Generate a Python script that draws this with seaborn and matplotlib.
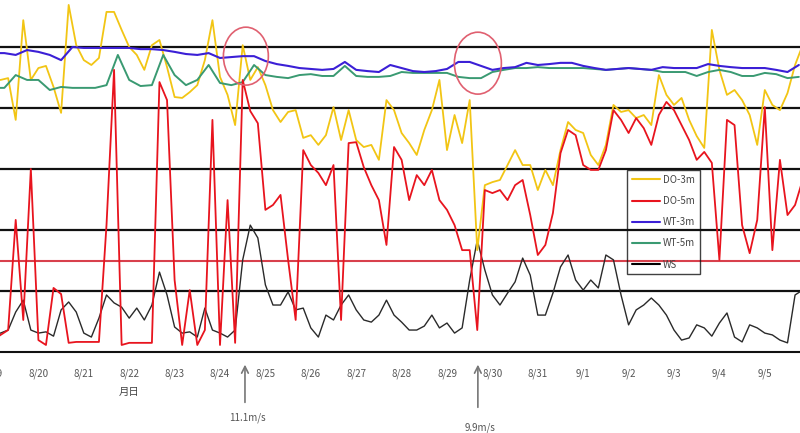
import numpy as np
import pandas as pd
import seaborn as sns
import matplotlib.pyplot as plt
import matplotlib.transforms as mtrans
from matplotlib.patches import Ellipse
from matplotlib.lines import Line2D

# ---------------- data ----------------
# time in days since 8/19 00:00 ; DO/WT/WS on the chart's common scale
date_labels = ['8/19', '8/20', '8/21', '8/22', '8/23', '8/24', '8/25', '8/26', '8/27',
               '8/28', '8/29', '8/30', '8/31', '9/1', '9/2', '9/3', '9/4', '9/5']
hours_4 = np.arange(0, 108 * 4, 4)      # 4-hourly readings
hours_6 = np.arange(0, 72 * 6, 6)       # 6-hourly readings

do_3m = [8.92, 8.92, 8.98, 7.61, 10.88, 8.92, 9.31, 9.38, 8.69, 7.84, 11.38, 10.06,
         9.57, 9.41, 9.64, 11.15, 11.15, 10.56, 10.00, 9.74, 9.25, 10.06, 10.23, 9.34,
         8.36, 8.33, 8.52, 8.75, 9.57, 10.88, 9.02, 8.43, 7.44, 10.06, 8.92, 9.34,
         8.75, 7.93, 7.54, 7.87, 7.93, 7.02, 7.11, 6.79, 7.11, 8.03, 6.95, 7.93,
         6.95, 6.72, 6.79, 6.30, 8.26, 7.93, 7.18, 6.85, 6.46, 7.28, 7.93, 8.92,
         6.62, 7.77, 6.85, 8.26, 3.34, 5.47, 5.57, 5.64, 6.13, 6.62, 6.13, 6.13,
         5.31, 5.97, 5.47, 6.62, 7.54, 7.28, 7.18, 6.46, 6.13, 6.79, 8.10, 7.87,
         7.93, 7.67, 7.77, 7.44, 9.08, 8.43, 8.10, 8.33, 7.61, 7.08, 6.69, 10.56,
         9.25, 8.43, 8.59, 8.26, 7.77, 6.79, 8.59, 8.10, 7.93, 8.49, 9.41, 10.06]

do_5m = [0.39, 0.56, 0.72, 4.33, 1.05, 6.00, 0.39, 0.23, 2.10, 1.90, 0.30, 0.33,
         0.33, 0.33, 0.33, 4.16, 9.25, 0.23, 0.30, 0.30, 0.30, 0.30, 8.85, 8.26,
         2.36, 0.23, 2.03, 0.23, 0.72, 7.61, 0.23, 4.98, 0.30, 8.92, 7.90, 7.50,
         4.66, 4.82, 5.15, 3.02, 1.05, 6.62, 6.13, 5.87, 5.47, 6.13, 1.05, 6.85,
         6.88, 6.06, 5.47, 4.98, 3.51, 6.72, 6.30, 4.98, 5.80, 5.47, 5.97, 4.98,
         4.66, 4.16, 3.34, 3.34, 0.72, 5.31, 5.21, 5.31, 4.98, 5.47, 5.64, 4.49,
         3.18, 3.51, 4.56, 6.52, 7.28, 7.11, 6.13, 5.97, 5.97, 6.62, 7.93, 7.61,
         7.18, 7.67, 7.34, 6.79, 7.77, 8.20, 7.93, 7.44, 6.95, 6.30, 6.56, 6.20,
         3.02, 7.61, 7.44, 4.16, 3.24, 4.33, 8.03, 3.34, 6.30, 4.49, 4.82, 5.64]

ws = [0.62, 0.62, 0.72, 1.31, 1.70, 0.72, 0.62, 0.66, 0.52, 1.38, 1.64, 1.31,
      0.62, 0.49, 1.11, 1.87, 1.61, 1.47, 1.11, 1.44, 1.05, 1.54, 2.62, 1.87,
      0.82, 0.62, 0.66, 0.49, 1.44, 0.72, 0.62, 0.49, 0.72, 3.02, 4.16, 3.74,
      2.20, 1.54, 1.54, 1.97, 1.38, 1.44, 0.79, 0.49, 1.21, 1.05, 1.54, 1.87,
      1.38, 1.05, 0.98, 1.21, 1.70, 1.21, 0.98, 0.72, 0.72, 0.85, 1.21, 0.79,
      0.95, 0.62, 0.79, 2.36, 3.67, 2.69, 1.87, 1.54, 1.93, 2.30, 3.08, 2.52,
      1.21, 1.21, 1.93, 2.79, 3.18, 2.36, 2.03, 2.36, 2.10, 3.18, 3.02, 1.87,
      0.89, 1.38, 1.54, 1.77, 1.54, 1.21, 0.72, 0.39, 0.46, 0.89, 0.79, 0.52,
      0.95, 1.28, 0.49, 0.33, 0.89, 0.79, 0.62, 0.56, 0.39, 0.30, 1.87, 2.03]

wt_3m = [9.80, 9.80, 9.74, 9.90, 9.84, 9.74, 9.57, 10.00, 9.97, 9.97, 9.97, 9.97,
         9.97, 9.93, 9.93, 9.90, 9.84, 9.77, 9.74, 9.80, 9.64, 9.67, 9.70, 9.70,
         9.54, 9.44, 9.38, 9.31, 9.28, 9.25, 9.28, 9.51, 9.25, 9.21, 9.18, 9.41,
         9.31, 9.21, 9.18, 9.21, 9.28, 9.51, 9.51, 9.38, 9.25, 9.31, 9.34, 9.48,
         9.41, 9.44, 9.48, 9.48, 9.38, 9.31, 9.25, 9.28, 9.31, 9.28, 9.25, 9.34,
         9.31, 9.31, 9.31, 9.44, 9.38, 9.34, 9.31, 9.31, 9.31, 9.25, 9.18, 9.41]

wt_5m = [8.66, 8.66, 9.08, 8.92, 8.92, 8.59, 8.69, 8.66, 8.66, 8.66, 8.75, 9.74,
         8.92, 8.72, 8.75, 9.74, 9.08, 8.75, 8.92, 9.41, 8.82, 8.75, 8.85, 9.41,
         9.08, 9.02, 8.98, 9.08, 9.11, 9.05, 9.05, 9.38, 9.05, 9.02, 9.02, 9.05,
         9.18, 9.15, 9.15, 9.15, 9.15, 9.02, 8.98, 8.98, 9.18, 9.25, 9.31, 9.31,
         9.34, 9.31, 9.31, 9.31, 9.31, 9.28, 9.25, 9.28, 9.31, 9.28, 9.25, 9.18,
         9.18, 9.18, 9.05, 9.18, 9.25, 9.18, 9.05, 9.05, 9.15, 9.11, 8.98, 9.02]

threshold = 3.0                      # red reference line
grid_levels = [2, 4, 6, 8, 10]
event_days = [5.55, 10.68]           # strong-wind events
event_labels = ['11.1m/s', '9.9m/s']

# ---------------- style ----------------
sns.set_theme(style='white')
plt.rcParams['font.family'] = ['Noto Sans CJK JP', 'DejaVu Sans']

C_DO3, C_DO5, C_WT3, C_WT5, C_WS = '#f2c514', '#e8141e', '#3b1fd6', '#3a9a72', '#2a2a2a'

fig = plt.figure(figsize=(8, 4.33), dpi=100)
ax = fig.add_axes([-30 / 800, 81 / 433, 860 / 800, 352 / 433])
ax.set_xlim(-23 / 45.4, 837 / 45.4)
ax.set_ylim(0, 352 / 30.5)

for g in grid_levels:
    ax.axhline(g, color='#111111', lw=1.6, zorder=1)
ax.axhline(threshold, color='#d8404c', lw=1.5, zorder=1)

t4 = hours_4 / 24.0
t6 = hours_6 / 24.0
sns.lineplot(x=t4, y=ws, ax=ax, color=C_WS, lw=1.0, zorder=2.0, legend=False)
sns.lineplot(x=t4, y=do_3m, ax=ax, color=C_DO3, lw=1.3, zorder=2.1, legend=False)
sns.lineplot(x=t6, y=wt_5m, ax=ax, color=C_WT5, lw=1.4, zorder=2.2, legend=False)
sns.lineplot(x=t6, y=wt_3m, ax=ax, color=C_WT3, lw=1.5, zorder=2.3, legend=False)
sns.lineplot(x=t4, y=do_5m, ax=ax, color=C_DO5, lw=1.3, zorder=2.4, legend=False)

ax.set_xticks(range(len(date_labels)))
ax.set_xticklabels(date_labels, fontsize=7, color='#555555')
ax.tick_params(axis='x', direction='in', length=4, width=1, pad=12, color='#222222')
ax.set_yticks([])
ax.set_xlabel('')
ax.set_ylabel('')
for s in ['left', 'right', 'top']:
    ax.spines[s].set_visible(False)
ax.spines['bottom'].set_color('#111111')
ax.spines['bottom'].set_linewidth(1.5)

trans = mtrans.blended_transform_factory(ax.transData, ax.transAxes)
ax.text(3, -0.114, '月日', transform=trans, ha='center', va='center',
        fontsize=7.5, color='#444444')

tails = [-0.151, -0.165]
texts = [-0.1875, -0.216]
for d, lab, ty, tx in zip(event_days, event_labels, tails, texts):
    ax.annotate('', xy=(d, -0.028), xytext=(d, ty), xycoords=trans, textcoords=trans,
                arrowprops=dict(arrowstyle='->', color='#777777', lw=1.2),
                annotation_clip=False)
    ax.text(d + 0.05, tx, lab, transform=trans, ha='center', va='center',
            fontsize=7, color='#555555', clip_on=False)

ax.add_patch(Ellipse((5.57, 9.70), 0.99, 1.90, fill=False, ec='#e06070', lw=1.2, zorder=3))
ax.add_patch(Ellipse((10.68, 9.47), 1.035, 2.03, fill=False, ec='#e06070', lw=1.2, zorder=3))

handles = [Line2D([], [], color=c, lw=1.5) for c in [C_DO3, C_DO5, C_WT3, C_WT5, 'black']]
labels = ['DO-3m', 'DO-5m', 'WT-3m', 'WT-5m', 'WS']
leg = ax.legend(handles, labels, loc='upper left', bbox_to_anchor=(627 / 800, 1 - 170 / 433),
                bbox_transform=fig.transFigure, frameon=True, fancybox=False,
                edgecolor='#111111', facecolor='none', fontsize=7, handlelength=2.9,
                handletextpad=0.3, labelspacing=1.15, borderpad=0.5, borderaxespad=0)
leg.get_frame().set_linewidth(1.0)
for t in leg.get_texts():
    t.set_color('#444444')

fig.savefig('out.png', dpi=100)
